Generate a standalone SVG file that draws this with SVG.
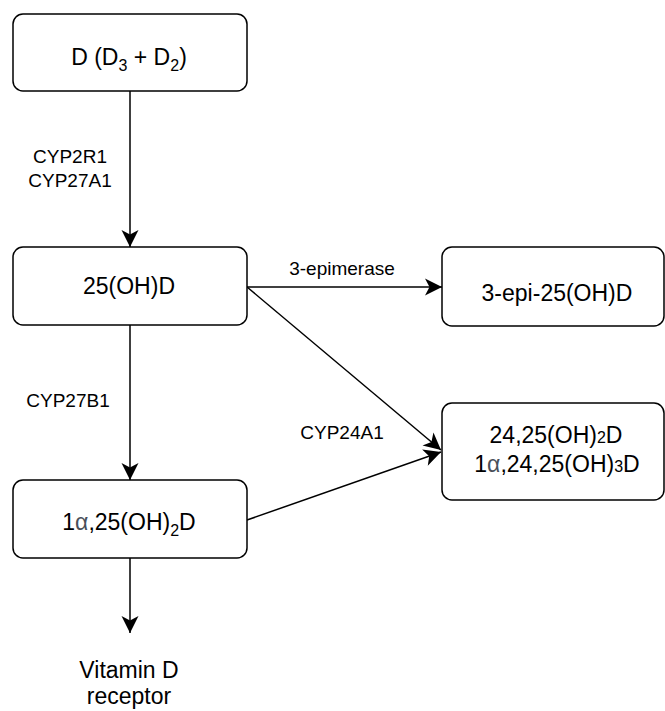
<svg xmlns="http://www.w3.org/2000/svg" width="665" height="711" viewBox="0 0 665 711">
<style>
.box{fill:#fff;stroke:#000;stroke-width:1.5}
.t{font-family:"Liberation Sans",Arial,sans-serif;font-size:23px;fill:#000;text-anchor:middle}
.l{font-family:"Liberation Sans",Arial,sans-serif;font-size:19px;fill:#000;text-anchor:middle}
.c{stroke:#000;stroke-width:1.5;fill:none;marker-end:url(#ah)}
.a{fill:#4a4f5a}
</style>
<defs>
<marker id="ah" viewBox="-17 -9 18 18" refX="0" refY="0" markerWidth="18" markerHeight="18" markerUnits="userSpaceOnUse" orient="auto" overflow="visible">
<path d="M0,0 L-17,-8.5 L-12.5,0 L-17,8.5 Z" fill="#000"/>
</marker>
</defs>
<rect width="665" height="711" fill="#fff"/>
<g id="connectors">
<line class="c" x1="130" y1="91" x2="130" y2="247"/>
<line class="c" x1="130" y1="325" x2="130" y2="480"/>
<line class="c" x1="247" y1="287" x2="442" y2="287"/>
<line class="c" x1="247" y1="287" x2="441" y2="450"/>
<line class="c" x1="247" y1="520" x2="441" y2="452"/>
<line class="c" x1="130" y1="558" x2="130" y2="633"/>
<text class="l" x="70" y="163">CYP2R1</text>
<text class="l" x="70" y="187">CYP27A1</text>
<text class="l" x="68" y="407">CYP27B1</text>
<text class="l" x="342" y="275">3-epimerase</text>
<text class="l" x="342" y="439">CYP24A1</text>
</g>
<g id="n1"><rect class="box" x="13" y="14" width="234" height="77" rx="10"/>
<text class="t" x="129" y="65">D (D<tspan font-size="16" dy="6">3</tspan><tspan dy="-6"> + D</tspan><tspan font-size="16" dy="6">2</tspan><tspan dy="-6">)</tspan></text></g>
<g id="n2"><rect class="box" x="13" y="247" width="234" height="78" rx="10"/>
<text class="t" x="129" y="294">25(OH)D</text></g>
<g id="n3"><rect class="box" x="442" y="247" width="222" height="79" rx="10"/>
<text class="t" x="557" y="301">3-epi-25(OH)D</text></g>
<g id="n4"><rect class="box" x="442" y="403" width="222" height="97" rx="10"/>
<text class="t" x="556" y="443">24,25(OH)<tspan font-size="16">2</tspan>D</text>
<text class="t" x="557" y="472">1<tspan class="a">α</tspan>,24,25(OH)<tspan font-size="16">3</tspan>D</text></g>
<g id="n5"><rect class="box" x="13" y="480" width="234" height="78" rx="10"/>
<text class="t" x="129" y="530">1<tspan class="a">α</tspan>,25(OH)<tspan font-size="16" dy="6">2</tspan><tspan dy="-6">D</tspan></text></g>
<g id="n6">
<text class="t" x="129" y="678">Vitamin D</text>
<text class="t" x="129" y="704">receptor</text></g>
</svg>
